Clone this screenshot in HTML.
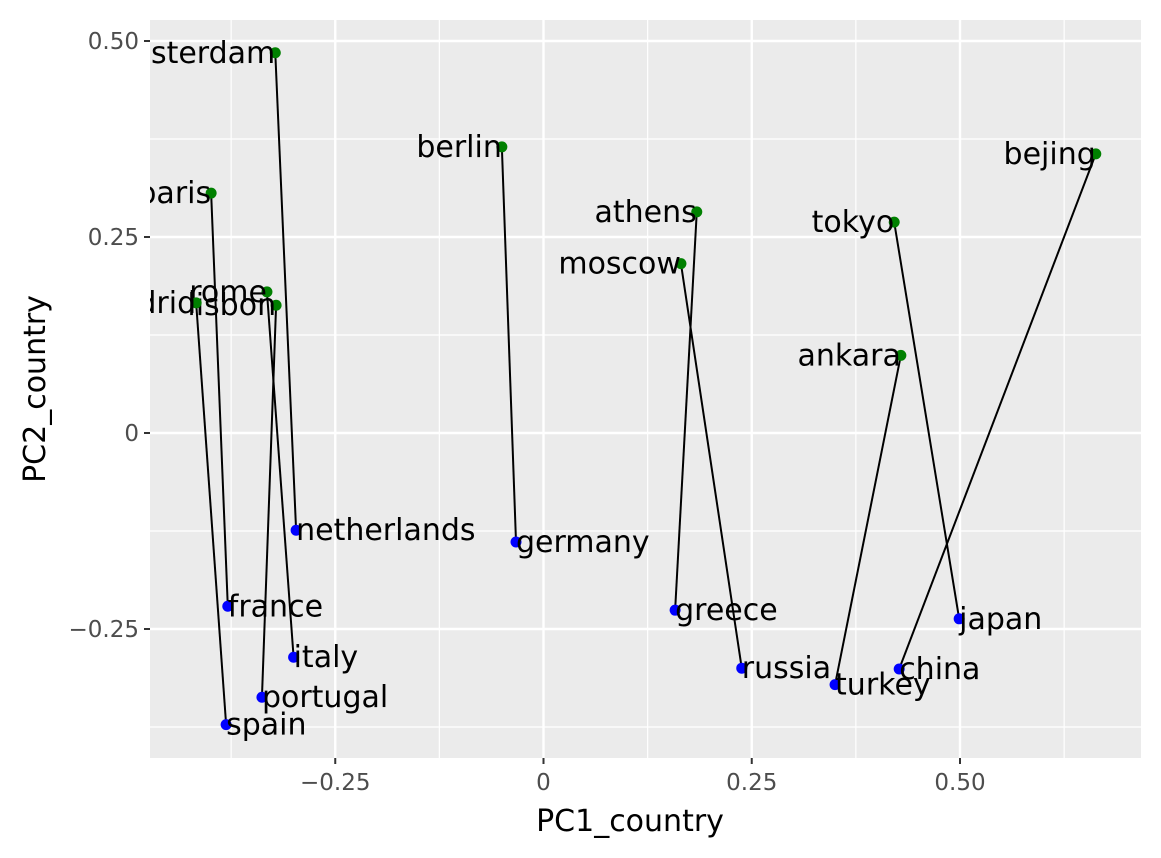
<!DOCTYPE html>
<html><head><meta charset="utf-8"><style>
body{margin:0;background:#fff}
svg{display:block;font-family:"DejaVu Sans","Liberation Sans",sans-serif}
</style></head><body>
<svg id="chart" width="1161" height="858">
<defs><clipPath id="clip"><rect x="150" y="20" width="991" height="738"/></clipPath></defs>
<rect x="150" y="20" width="991" height="738" fill="#ebebeb"/>
<g id="grid"></g>
<g id="marks" clip-path="url(#clip)"></g>
<g id="axes"></g>
<text x="630" y="831" font-size="30" text-anchor="middle" fill="#000">PC1_country</text>
<text x="0" y="0" font-size="30" text-anchor="middle" fill="#000" transform="translate(45,389) rotate(-90)">PC2_country</text>
</svg>
<script>
const cities=["amsterdam","berlin","paris","athens","moscow","tokyo","bejing","rome","lisbon","madrid","ankara"];
const cityX=[-0.322,-0.050,-0.399,0.184,0.165,0.421,0.663,-0.332,-0.321,-0.417,0.429];
const cityY=[0.485,0.365,0.306,0.282,0.216,0.269,0.356,0.180,0.163,0.166,0.099];
const countries=["netherlands","germany","france","greece","russia","japan","china","italy","portugal","spain","turkey"];
const countryX=[-0.297,-0.033,-0.379,0.158,0.238,0.499,0.427,-0.300,-0.338,-0.381,0.350];
const countryY=[-0.124,-0.139,-0.221,-0.226,-0.300,-0.237,-0.301,-0.286,-0.337,-0.372,-0.321];
const xTicks=[-0.25,0,0.25,0.5];
const xTickLabels=["\u22120.25","0","0.25","0.50"];
const yTicks=[0.5,0.25,0,-0.25];
const yTickLabels=["0.50","0.25","0","\u22120.25"];
const xMinor=[-0.375,-0.125,0.125,0.375,0.625];
const yMinor=[0.375,0.125,-0.125,-0.375];

const NS="http://www.w3.org/2000/svg";
const sx=v=>543.5+v*833;
const sy=v=>433-v*784;
function mk(tag,attrs,parent){const e=document.createElementNS(NS,tag);for(const k in attrs)e.setAttribute(k,attrs[k]);parent.appendChild(e);return e;}
const grid=document.getElementById('grid'),marks=document.getElementById('marks'),axes=document.getElementById('axes');
xMinor.forEach(v=>{const l=mk('line',{x1:sx(v),x2:sx(v),y1:20,y2:758,stroke:'#fff','stroke-width':1.2},grid);

});
yMinor.forEach(v=>{const l=mk('line',{x1:150,x2:1141,y1:sy(v),y2:sy(v),stroke:'#fff','stroke-width':1.2},grid);

});
xTicks.forEach((v,i)=>{const l=mk('line',{x1:sx(v),x2:sx(v),y1:20,y2:758,stroke:'#fff','stroke-width':2.4},grid);


const t=mk('line',{x1:sx(v),x2:sx(v),y1:758,y2:764,stroke:'#333','stroke-width':2},axes);


const tx=mk('text',{x:sx(v),y:790,'font-size':23,'text-anchor':'middle',fill:'#4d4d4d'},axes);tx.textContent=xTickLabels[i];

});
yTicks.forEach((v,i)=>{const l=mk('line',{x1:150,x2:1141,y1:sy(v),y2:sy(v),stroke:'#fff','stroke-width':2.4},grid);


const t=mk('line',{x1:144,x2:150,y1:sy(v),y2:sy(v),stroke:'#333','stroke-width':2},axes);


const tx=mk('text',{x:139,y:sy(v)+8,'font-size':23,'text-anchor':'end',fill:'#4d4d4d'},axes);tx.textContent=yTickLabels[i];

});
cities.forEach((c,i)=>{const l=mk('line',{x1:sx(cityX[i]),y1:sy(cityY[i]),x2:sx(countryX[i]),y2:sy(countryY[i]),stroke:'#000','stroke-width':2},marks);

});
cities.forEach((c,i)=>{const p=mk('circle',{cx:sx(cityX[i]),cy:sy(cityY[i]),r:5.5,fill:'#008000'},marks);


const t=mk('text',{x:sx(cityX[i]),y:sy(cityY[i])+10,'font-size':30,'text-anchor':'end',fill:'#000'},marks);t.textContent=c;

});
countries.forEach((c,i)=>{const p=mk('circle',{cx:sx(countryX[i]),cy:sy(countryY[i]),r:5.5,fill:'#0000ff'},marks);


const t=mk('text',{x:sx(countryX[i]),y:sy(countryY[i])+10,'font-size':30,'text-anchor':'start',fill:'#000'},marks);t.textContent=c;

});
</script>
</body></html>
